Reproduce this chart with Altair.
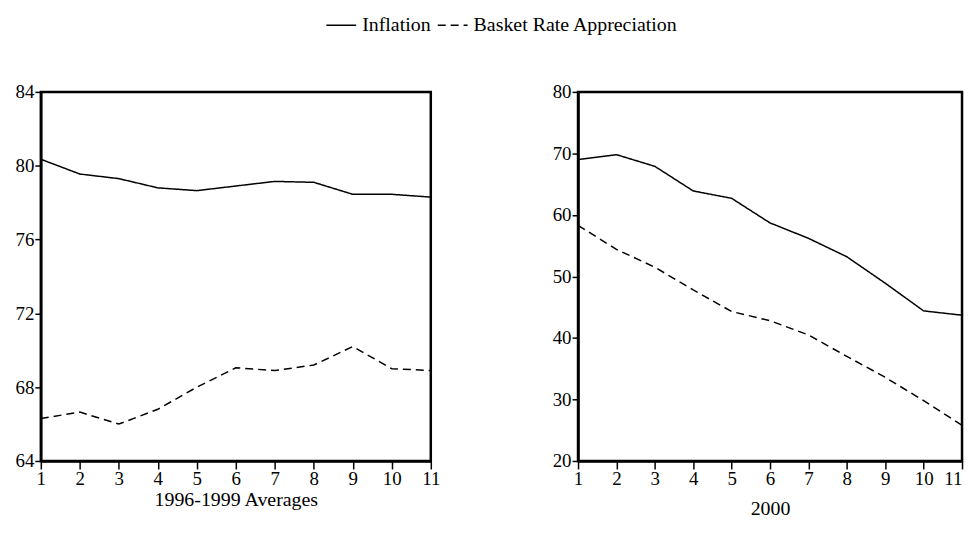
import altair as alt
import pandas as pd

periods = list(range(1, 12))
series_names = ["Inflation", "Basket Rate Appreciation"]

left_inflation = [80.35, 79.55, 79.3, 78.8, 78.65, 78.9, 79.15, 79.1, 78.45, 78.45, 78.3]
left_basket = [66.3, 66.65, 66.0, 66.8, 68.0, 69.05, 68.9, 69.2, 70.2, 69.0, 68.9]
right_inflation = [69.0, 69.8, 67.9, 63.9, 62.7, 58.7, 56.2, 53.2, 48.9, 44.4, 43.7]
right_basket = [58.3, 54.4, 51.5, 47.8, 44.3, 42.8, 40.5, 37.0, 33.6, 29.8, 25.8]

left_ticks = [64, 68, 72, 76, 80, 84]
right_ticks = [20, 30, 40, 50, 60, 70, 80]

left_title = "1996-1999 Averages"
right_title = "2000"


def make_df(infl, bask):
    rows = []
    for p, v in zip(periods, infl):
        rows.append({"period": p, "value": v, "series": series_names[0]})
    for p, v in zip(periods, bask):
        rows.append({"period": p, "value": v, "series": series_names[1]})
    return pd.DataFrame(rows)


FONT = "Liberation Serif"


def panel(df, domain, ticks, title, title_pad, width, show_legend, last_align):
    legend = None
    if show_legend:
        legend = alt.Legend(
            orient="none", legendX=286, legendY=-83, direction="horizontal",
            title=None, symbolType="stroke", symbolStrokeColor="black",
            symbolStrokeWidth=1.5, symbolSize=900, labelFont=FONT,
            labelFontSize=20, labelColor="black", columnPadding=4, labelOffset=5,
            labelLimit=1000, padding=0,
        )
    return alt.Chart(df).mark_line(color="black", strokeWidth=1.5).encode(
        x=alt.X("period:Q",
                scale=alt.Scale(domain=[1, 11], nice=False, zero=False),
                axis=alt.Axis(values=periods, title=title, titlePadding=title_pad,
                              titleFontSize=20,
                              ticks=True, tickSize=8, labelPadding=1, format="d",
                              labelFlush=False,
                              labelAlign={"expr": "datum.value == 11 ? '%s' : 'center'" % last_align})),
        y=alt.Y("value:Q",
                scale=alt.Scale(domain=domain, nice=False, zero=False),
                axis=alt.Axis(values=ticks, title=None, ticks=True, tickSize=6,
                              labelPadding=1, format="d", labelFlush=False)),
        strokeDash=alt.StrokeDash("series:N",
                                  scale=alt.Scale(domain=series_names, range=[[1, 0], [8, 5]]),
                                  legend=legend),
    ).properties(width=width, height=371)


left = panel(make_df(left_inflation, left_basket), [64, 84], left_ticks, left_title, 1, 392, True, "center")
right = panel(make_df(right_inflation, right_basket), [20, 80], right_ticks, right_title, 10, 386, False, "right")

chart = alt.hconcat(left, right, spacing=109).properties(
    padding={"left": 5, "top": 0, "right": 0, "bottom": 0}
).configure_view(
    stroke="black", strokeWidth=2.5
).configure_axis(
    grid=False, domainColor="black", domainWidth=2.5, tickColor="black",
    tickWidth=1.5, labelFont=FONT, labelFontSize=19, labelColor="black",
    titleFont=FONT, titleFontSize=20, titleFontWeight="normal", titleColor="black",
).configure_legend(
    labelFont=FONT
)

chart.save("out.html", embed_options={"renderer": "svg", "actions": False})
